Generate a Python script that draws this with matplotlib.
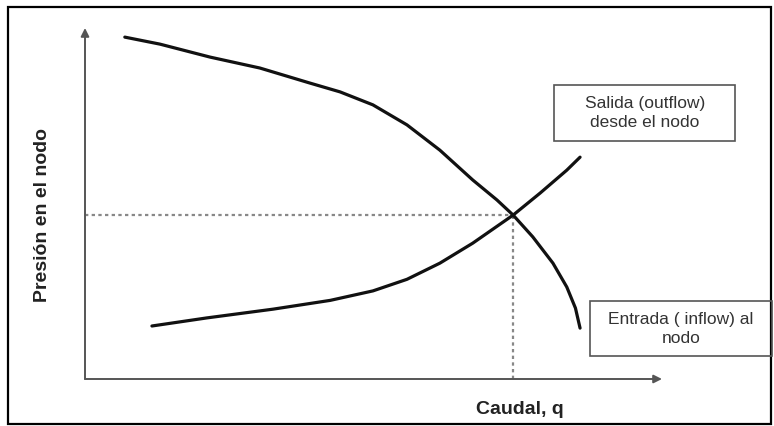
import matplotlib
matplotlib.use("Agg")
import matplotlib.pyplot as plt
from matplotlib.patches import Rectangle

plt.rcParams['font.family'] = ['Liberation Sans', 'DejaVu Sans']

# -----------------------------
# Data
# -----------------------------
# curva de salida (outflow) - presion vs caudal
q_out = [0.69, 1.30, 2.17, 3.03, 3.90, 4.42, 4.99, 5.58, 6.15, 6.72, 7.14, 7.42,
         7.76, 8.11, 8.35, 8.50, 8.58]
p_out = [9.74, 9.54, 9.17, 8.86, 8.43, 8.18, 7.81, 7.24, 6.52, 5.67, 5.10, 4.67,
         4.05, 3.30, 2.62, 2.02, 1.45]

# curva de entrada (inflow)
q_in = [1.16, 2.11, 3.26, 4.25, 4.99, 5.58, 6.15, 6.72, 7.42, 7.89, 8.35, 8.58]
p_in = [1.51, 1.74, 1.99, 2.24, 2.51, 2.84, 3.30, 3.87, 4.67, 5.30, 5.95, 6.32]

# punto de operacion (interseccion)
q_op = 7.42
p_op = 4.67

x_label = 'Caudal, q'
y_label = 'Presión en el nodo'
label_out = 'Salida (outflow)\ndesde el nodo'
label_in = 'Entrada ( inflow) al\nnodo'

# -----------------------------
# Figure
# -----------------------------
W, H = 774, 426
fig = plt.figure(figsize=(W / 100, H / 100), dpi=100)
ax = fig.add_axes([0, 0, 1, 1])
ax.set_xlim(-85 / 57.7, (W - 85) / 57.7)
ax.set_ylim(-(H - 379) / 35.1, 379 / 35.1)
ax.axis('off')

# outer frame
fig.add_artist(Rectangle((8 / W, 1 - 424 / H), (771 - 8) / W, (424 - 7) / H,
                         transform=fig.transFigure, fill=False,
                         edgecolor='black', lw=1.6))

# axes with arrows
ax.annotate('', xy=(0, 10), xytext=(0, 0),
            arrowprops=dict(arrowstyle='-|>', color='#555555', lw=1.4,
                            mutation_scale=12, shrinkA=0, shrinkB=0))
ax.annotate('', xy=(10, 0), xytext=(0, 0),
            arrowprops=dict(arrowstyle='-|>', color='#555555', lw=1.4,
                            mutation_scale=12, shrinkA=0, shrinkB=0))

# dashed guide lines
ax.plot([0, q_op], [p_op, p_op], color='#888888', lw=1.6, ls=(0, (1.5, 1.5)))
ax.plot([q_op, q_op], [0, p_op], color='#888888', lw=1.6, ls=(0, (1.5, 1.5)))

# curves
ax.plot(q_out, p_out, color='#111111', lw=2.3, solid_capstyle='round',
        solid_joinstyle='round')
ax.plot(q_in, p_in, color='#111111', lw=2.3, solid_capstyle='round',
        solid_joinstyle='round')

# axis labels
fig.text(520 / W, 1 - 410 / H, x_label, ha='center', va='center',
         fontsize=14, fontweight='bold', color='#222222')
fig.text(43 / W, 1 - 215 / H, y_label, ha='center', va='center',
         rotation=90, fontsize=14, fontweight='bold', color='#222222')

# label boxes
fig.add_artist(Rectangle((554 / W, 1 - 141 / H), (735 - 554) / W, (141 - 85) / H,
                         transform=fig.transFigure, fill=False,
                         edgecolor='#555555', lw=1.2))
fig.text(645 / W, 1 - 113 / H, label_out, ha='center', va='center',
         fontsize=12.5, color='#333333', linespacing=1.3)

fig.add_artist(Rectangle((590 / W, 1 - 356 / H), (772 - 590) / W, (356 - 301) / H,
                         transform=fig.transFigure, fill=False,
                         edgecolor='#555555', lw=1.2))
fig.text(681 / W, 1 - 329 / H, label_in, ha='center', va='center',
         fontsize=12.5, color='#333333', linespacing=1.3)

fig.savefig('out.png', dpi=100)
